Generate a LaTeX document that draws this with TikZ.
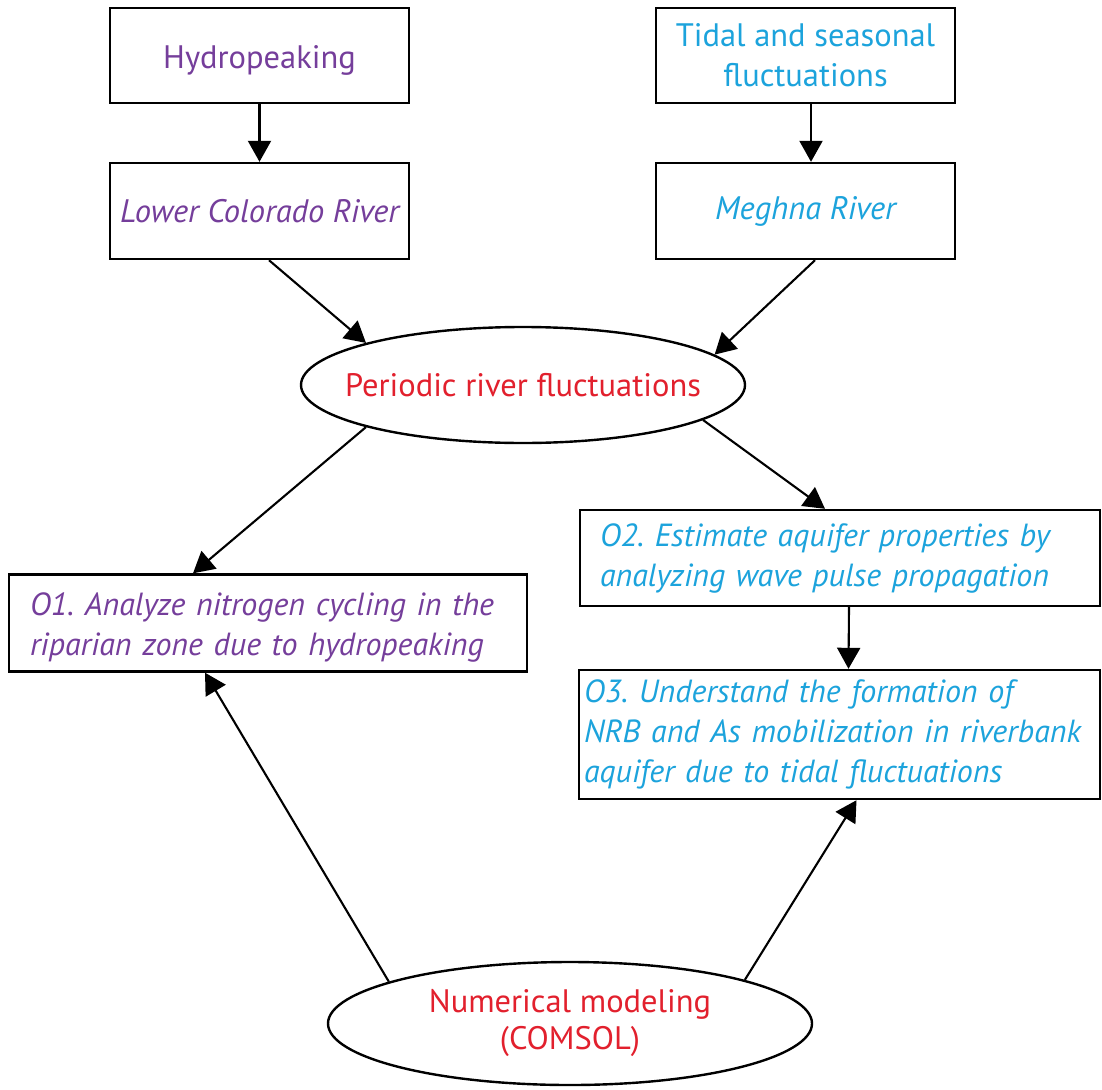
\documentclass[tikz,border=0pt]{standalone}
\usepackage{fontspec}
\setmainfont{PT Sans}
\usetikzlibrary{shapes.geometric,arrows.meta,calc}
\definecolor{cpurple}{RGB}{117,62,155}
\definecolor{ccyan}{RGB}{28,163,220}
\definecolor{cred}{RGB}{226,32,45}
\frenchspacing
\newcommand{\lowerby}[2]{\raisebox{-#1}[\height][\depth]{#2}}
\begin{document}
\begin{tikzpicture}[x=1pt,y=-1pt,
  box/.style={draw=black,line width=2.4pt,rectangle,inner sep=0pt,font=\fontsize{32.5}{40}\selectfont},
  itbox/.style={box,align=left,font=\fontsize{32}{40}\selectfont\itshape},
  oval/.style={draw=black,line width=2.4pt,ellipse,inner xsep=-60pt,inner ysep=-10pt,font=\fontsize{32.5}{37}\selectfont,text=cred,align=center},
  arr/.style={line width=2.1pt,-{Triangle[length=21pt,width=23pt]}}]
\useasboundingbox[fill=white] (0,0) rectangle (1102,1089);
% top boxes
\node[box,minimum width=299pt,minimum height=95pt,text=cpurple] (hydro) at (259.5,55.5) {\lowerby{5pt}{Hydropeaking}};
\node[box,minimum width=299pt,minimum height=96pt,text=cpurple] (lcr) at (259.5,211) {\itshape Lower Colorado River};
\node[box,minimum width=299pt,minimum height=95pt,text=ccyan,align=center] (tidal) at (805.5,55.5) {Tidal and seasonal\\fluctuations};
\node[box,minimum width=299pt,minimum height=96pt,text=ccyan] (meghna) at (805.5,211) {\itshape Meghna River};
% ellipses
\node[oval,minimum width=444pt,minimum height=116pt] (ell1) at (523,385) {Periodic river fluctuations};
\node[oval,minimum width=484pt,minimum height=123pt] (ell2) at (570,1023.5) {Numerical modeling\\(COMSOL)};
% objective boxes
\node[itbox,minimum width=518pt,minimum height=97pt,text=cpurple,text width=476pt,inner xsep=21pt] (o1) at (268,623) {\lowerby{4pt}{O1. Analyze nitrogen cycling in the}\\\lowerby{4pt}{riparian zone due to hydropeaking}};
\node[itbox,minimum width=520pt,minimum height=96pt,text=ccyan,text width=480pt,inner xsep=20pt] (o2) at (840,558) {O2. Estimate aquifer properties by\\analyzing wave pulse propagation};
\node[itbox,minimum width=521pt,minimum height=129pt,text=ccyan,text width=511pt,inner xsep=5pt] (o3) at (839.5,734.5) {O3. Understand the formation of\\NRB and As mobilization in riverbank\\aquifer due to tidal fluctuations};
% connectors
\draw[arr] (hydro.south) -- (lcr.north);
\draw[arr] ([xshift=5.5pt]tidal.south) -- ([xshift=5.5pt]meghna.north);
\draw[arr] ([xshift=9.5pt]lcr.south) -- (ell1.165);
\draw[arr] ([xshift=9.5pt]meghna.south) -- (ell1.9);
\draw[arr] (ell1.195) -- ([xshift=-75pt]o1.north);
\draw[arr] (ell1.-11) -- ([xshift=-15pt]o2.north);
\draw[arr] ([xshift=9pt]o2.south) -- ([xshift=9pt]o3.north);
\draw[arr] (ell2.167) -- ([xshift=-63pt]o1.south);
\draw[arr] (ell2.14) -- ([xshift=17pt]o3.south);
\end{tikzpicture}
\end{document}
